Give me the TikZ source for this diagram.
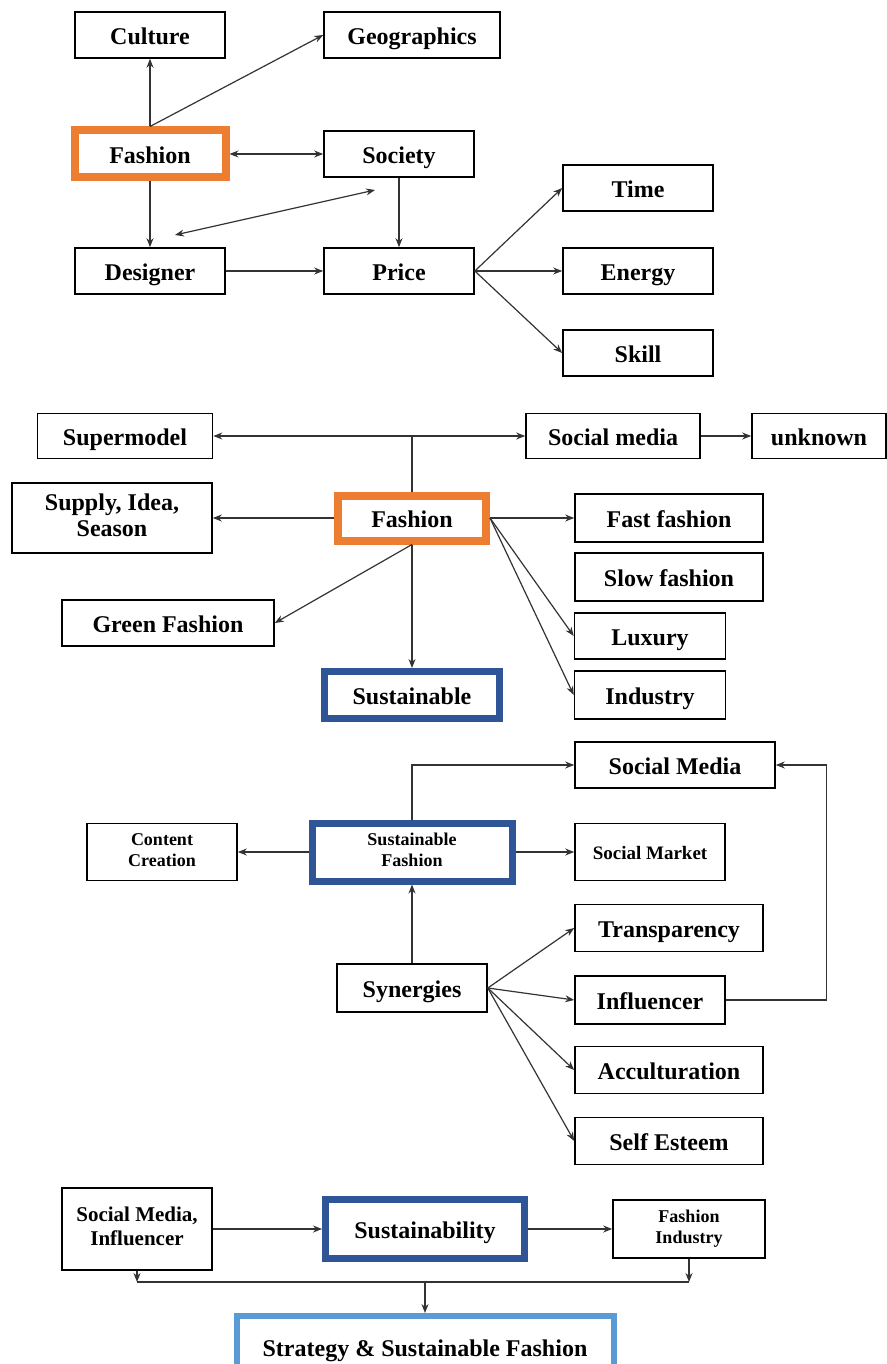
\documentclass[tikz,border=0pt]{standalone}
\usepackage{fontspec}
\setmainfont{Liberation Serif}
\usetikzlibrary{arrows.meta}
\definecolor{fashorange}{HTML}{ED7D31}
\definecolor{sustblue}{HTML}{2F5597}
\definecolor{stratblue}{HTML}{5B9BD5}
\newcommand{\boxstrut}{\rule[-0.25em]{0pt}{1.3em}}

\begin{document}
\begin{tikzpicture}[
            x=0.5pt, y=-0.5pt,
            box/.style={
              draw, line width=0.8pt,
              minimum width=75pt, minimum height=23pt,
              inner sep=1pt, align=center,
              font=\fontsize{12}{13}\selectfont\bfseries,
              execute at begin node=\boxstrut,
              execute at end node=\boxstrut
            },
            orangebox/.style={box, draw=fashorange, line width=4pt},
            bluebox/.style={box, draw=sustblue, line width=3.5pt},
            smalltxt/.style={font=\fontsize{9}{10.5}\selectfont\bfseries},
            arr/.style={-{Stealth[length=4.5pt,width=3.5pt]}, line width=0.6pt, black!80},
            dblarr/.style={{Stealth[length=4.5pt,width=3.5pt]}-{Stealth[length=4.5pt,width=3.5pt]}, line width=0.6pt, black!80},
            ln/.style={line width=0.6pt, black!80}
        ]
    \useasboundingbox (0,0) rectangle (887,1364);

    \node[box] (cult) at (150,35) {Culture};
    \node[box, minimum width=88pt] (geo) at (412,35) {Geographics};
    \node[orangebox, minimum width=75.5pt, minimum height=23.5pt] (fash1) at (150,154) {Fashion};
    \node[box] (soc) at (399,154) {Society};
    \node[box] (des) at (150,271) {Designer};
    \node[box] (price) at (399,271) {Price};
    \node[box] (time) at (638,188) {Time};
    \node[box] (energy) at (638,271) {Energy};
    \node[box] (skill) at (638,353) {Skill};
    \coordinate (desup) at (175,235);
    \coordinate (socdown) at (375,190);

    \draw[arr] (fash1.north) -- (cult.south);
    \draw[arr] (fash1.north) -- (geo.west);
    \draw[dblarr] (fash1.east) -- (soc.west);
    \draw[arr] (fash1.south) -- (des.north);
    \draw[dblarr] (desup) -- (socdown);
    \draw[arr] (soc.south) -- (price.north);
    \draw[arr] (des) -- (price);
    \foreach \t in {time, energy, skill}
      \draw[arr] (price.east) -- (\t.west);

    \node[box, minimum width=87.5pt, minimum height=22.5pt] (supm) at (125,436) {Supermodel};
    \node[box, minimum width=87pt, minimum height=22.5pt] (socmed) at (613,436) {Social media};
    \node[box, minimum width=67pt, minimum height=22.5pt] (unk) at (819,436) {unknown};
    \node[box, minimum width=100pt, minimum height=35pt] (supply) at (112,518) {Supply, Idea,\\ Season};
    \node[orangebox, minimum width=74pt, minimum height=22.5pt] (fash2) at (412,518) {Fashion};
    \node[box, minimum width=94pt, minimum height=24pt] (fast) at (669,518) {Fast fashion};
    \node[box, minimum width=94pt, minimum height=24pt] (slow) at (669,577) {Slow fashion};
    \node[box, minimum width=106pt] (green) at (168,623) {Green Fashion};
    \node[box, minimum width=75.5pt] (lux) at (650,636) {Luxury};
    \node[box, minimum width=75.5pt, minimum height=24pt] (ind) at (650,695) {Industry};
    \node[bluebox, minimum width=87.5pt, minimum height=23.5pt] (sust) at (412,695) {Sustainable};
    \coordinate (fashtop) at (412,436);

    \draw[ln] (fash2.north) -- (fashtop);
    \draw[arr] (fashtop) -- (supm.east);
    \draw[arr] (fashtop) -- (socmed.west);
    \draw[arr] (socmed) -- (unk);
    \draw[arr] (fash2.west) -- (supply.east);
    \draw[arr] (fash2.east) -- (fast.west);
    \foreach \t in {lux, ind}
      \draw[arr] (fash2.east) -- (\t.west);
    \draw[arr] (fash2.south) -- (green.east);
    \draw[arr] (fash2.south) -- (sust.north);

    \node[box, minimum width=100pt] (smedia) at (675,765) {Social Media};
    \node[box, smalltxt, minimum height=28.5pt] (content) at (162,852) {Content\\ Creation};
    \node[bluebox, smalltxt, minimum width=100pt, minimum height=29pt] (sf) at (412,852) {Sustainable\\ Fashion};
    \node[box, font=\fontsize{9.5}{11}\selectfont\bfseries, minimum height=28.5pt] (smarket) at (650,852) {Social Market};
    \node[box, minimum width=94pt, minimum height=23.5pt] (transp) at (669,928) {Transparency};
    \node[box, minimum height=24pt] (syn) at (412,988) {Synergies};
    \node[box, minimum height=24pt] (infl) at (650,1000) {Influencer};
    \node[box, minimum width=94pt, minimum height=23.5pt] (accult) at (669,1070) {Acculturation};
    \node[box, minimum width=94pt, minimum height=23.5pt] (self) at (669,1141) {Self Esteem};

    \draw[arr] (sf.north) |- (smedia.west);
    \draw[arr] (sf.west) -- (content.east);
    \draw[arr] (sf.east) -- (smarket.west);
    \draw[arr] (syn.north) -- (sf.south);
    \foreach \t in {transp, infl, accult, self}
      \draw[arr] (syn.east) -- (\t.west);
    \draw[arr] (infl.east) -- ++(101,0) |- (smedia.east);

    \node[box, font=\fontsize{10.5}{12}\selectfont\bfseries, minimum height=41pt] (smi) at (137,1229) {Social Media,\\ Influencer};
    \node[bluebox, minimum width=99.5pt, minimum height=29.5pt] (sustain) at (425,1229) {Sustainability};
    \node[box, smalltxt, minimum width=76pt, minimum height=29pt] (findus) at (689,1229) {Fashion\\ Industry};
    \node[box, draw=stratblue, line width=3pt, minimum width=188.5pt, minimum height=31pt] (strat) at (425,1347) {Strategy \& Sustainable Fashion};
    \coordinate (busL) at (137,1282);
    \coordinate (busR) at (689,1282);
    \coordinate (busM) at (425,1282);

    \draw[arr] (smi) -- (sustain);
    \draw[arr] (sustain) -- (findus);
    \draw[arr] (smi.south) -- (busL);
    \draw[arr] (findus.south) -- (busR);
    \draw[ln] (busL) -- (busR);
    \draw[arr] (busM) -- (strat.north);

    \end{tikzpicture}
\end{document}
